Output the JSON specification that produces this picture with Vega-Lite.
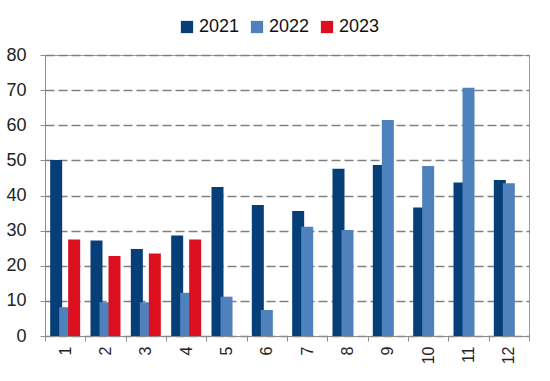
{
  "$schema": "https://vega.github.io/schema/vega-lite/v6.json",
  "width": 484,
  "height": 281,
  "autosize": "none",
  "padding": {"left": 45, "top": 55, "right": 21, "bottom": 45},
  "background": "white",
  "config": {
    "view": {"stroke": "#9a9a9a", "strokeWidth": 1},
    "font": "Liberation Sans",
    "axis": {"labelFont": "Liberation Sans", "labelColor": "#222", "domainColor": "#8c8c8c", "tickColor": "#8c8c8c"}
  },
  "data": {
    "values": [
      {"month": 1, "year": "2021", "value": 50.1},
      {"month": 2, "year": "2021", "value": 27.2},
      {"month": 3, "year": "2021", "value": 24.8},
      {"month": 4, "year": "2021", "value": 28.6},
      {"month": 5, "year": "2021", "value": 42.4},
      {"month": 6, "year": "2021", "value": 37.3},
      {"month": 7, "year": "2021", "value": 35.6},
      {"month": 8, "year": "2021", "value": 47.6},
      {"month": 9, "year": "2021", "value": 48.7},
      {"month": 10, "year": "2021", "value": 36.6},
      {"month": 11, "year": "2021", "value": 43.7},
      {"month": 12, "year": "2021", "value": 44.4},
      {"month": 1, "year": "2022", "value": 8.2},
      {"month": 2, "year": "2022", "value": 9.6},
      {"month": 3, "year": "2022", "value": 9.6},
      {"month": 4, "year": "2022", "value": 12.3},
      {"month": 5, "year": "2022", "value": 11.2},
      {"month": 6, "year": "2022", "value": 7.4},
      {"month": 7, "year": "2022", "value": 31.1},
      {"month": 8, "year": "2022", "value": 30.2},
      {"month": 9, "year": "2022", "value": 61.5},
      {"month": 10, "year": "2022", "value": 48.4},
      {"month": 11, "year": "2022", "value": 70.7},
      {"month": 12, "year": "2022", "value": 43.5},
      {"month": 1, "year": "2023", "value": 27.5},
      {"month": 2, "year": "2023", "value": 22.8},
      {"month": 3, "year": "2023", "value": 23.5},
      {"month": 4, "year": "2023", "value": 27.5}
    ]
  },
  "encoding": {
    "x": {
      "field": "month", "type": "ordinal",
      "scale": {"paddingInner": 0, "paddingOuter": 0},
      "axis": {"title": null, "labelAngle": -90, "labelFontSize": 16, "tickBand": "extent", "tickSize": 5, "labelPadding": 5, "domainColor": "#8c8c8c"}
    },
    "y": {
      "field": "value", "type": "quantitative",
      "scale": {"domain": [0, 80], "nice": false},
      "axis": {"title": null, "values": [0,10,20,30,40,50,60,70,80], "labelFontSize": 18, "labelPadding": 14, "tickSize": 5, "gridColor": "#7f7f7f", "gridDash": [9, 4], "gridWidth": 1.6, "labelColor": "#222"}
    },
    "color": {
      "field": "year", "type": "nominal",
      "scale": {"domain": ["2021", "2022", "2023"], "range": ["#063f78", "#4f81bd", "#dc0f1e"]},
      "legend": {"title": null, "orient": "none", "legendX": 133, "legendY": -37, "direction": "horizontal", "symbolType": "square", "symbolSize": 150, "symbolStrokeWidth": 0, "labelFontSize": 18, "labelColor": "#111", "labelOffset": 3, "columnPadding": 8}
    }
  },
  "layer": [
    {"transform": [{"filter": "datum.year == '2021'"}], "mark": {"type": "bar", "width": 12, "xOffset": -9}},
    {"transform": [{"filter": "datum.year == '2022'"}], "mark": {"type": "bar", "width": 12, "xOffset": 0}},
    {"transform": [{"filter": "datum.year == '2023'"}], "mark": {"type": "bar", "width": 12, "xOffset": 9}}
  ]
}
